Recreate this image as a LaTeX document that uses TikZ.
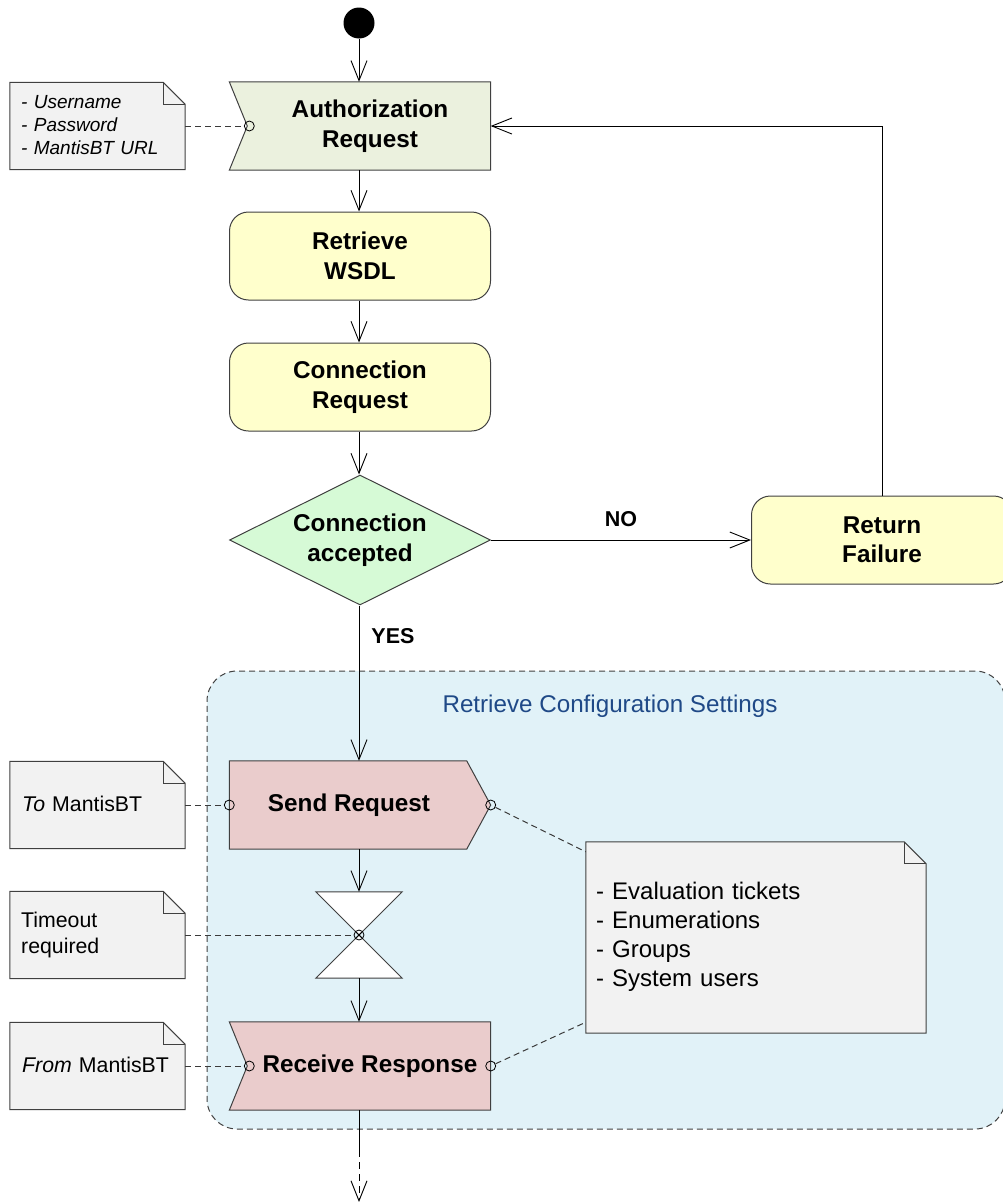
\documentclass[tikz,border=0pt]{standalone}
\usepackage{fontspec}
\setmainfont{Liberation Sans}
\usetikzlibrary{arrows.meta,shapes.geometric,calc}

\definecolor{edgegray}{HTML}{404040}
\definecolor{linkgray}{HTML}{3A3A3A}
\definecolor{authfill}{RGB}{235,241,222}
\definecolor{actfill}{RGB}{255,255,204}
\definecolor{decfill}{RGB}{214,250,214}
\definecolor{msgfill}{RGB}{234,204,204}
\definecolor{regionfill}{RGB}{225,242,248}
\definecolor{notefill}{RGB}{242,242,242}
\definecolor{regiontext}{RGB}{31,73,135}

\newcommand{\labfont}{\fontsize{24.3}{29.5}\selectfont\bfseries}
\newcommand{\notefont}{\fontsize{21.3}{26}\selectfont}
\newcommand{\smallnotefont}{\fontsize{19}{23}\selectfont\itshape}
\newcommand{\bignotefont}{\fontsize{24}{29}\selectfont}

% dog-eared note outline around a named node
\newcommand{\dognote}[1]{%
  \draw[notebody] (#1.north west) -- ($(#1.north east)+(-22,0)$) -- ($(#1.north east)+(0,22)$)
        -- (#1.south east) -- (#1.south west) -- cycle;
  \draw[notebody, fill=none] ($(#1.north east)+(-22,0)$) |- ($(#1.north east)+(0,22)$);}

\tikzset{
  flow/.style={draw=black, line width=0.9pt,
    -{Straight Barb[length=20pt,width=16pt,line width=0.9pt]}},
  link/.style={draw=linkgray, line width=1pt, dash pattern=on 6pt off 4pt},
  frame/.style={minimum width=261pt, minimum height=88pt, inner sep=0pt},
  shapeline/.style={draw=edgegray, line width=1pt},
  action/.style={frame, shapeline, fill=actfill, rounded corners=19pt,
    font=\labfont, align=center},
  labeltext/.style={font=\labfont, align=center, inner sep=0pt},
  notebody/.style={draw=edgegray, line width=1pt, fill=notefill},
  noteframe/.style={minimum width=175pt, minimum height=87pt, inner sep=0pt},
  notetext/.style={text width=153pt, align=left, inner sep=0pt, anchor=west},
  port/.style={circle, draw=black, line width=0.8pt, minimum size=10pt, inner sep=0pt},
  guard/.style={font=\fontsize{21.5}{25}\selectfont\bfseries, inner sep=0pt},
}

\begin{document}
\begin{tikzpicture}[x=1pt, y=-1pt]
\useasboundingbox (0,0) rectangle (1003,1202);
\clip (0,0) rectangle (1003,1202);

% ---- region: Retrieve Configuration Settings
\node[draw=edgegray, line width=1pt, dash pattern=on 6pt off 4pt, fill=regionfill,
      rounded corners=30pt, minimum width=798pt, minimum height=458pt, inner sep=0pt]
      (region) at (606,900) {};
\node[font=\fontsize{24.2}{28}\selectfont, text=regiontext, inner sep=0pt]
      (regionlabel) at (610,706) {Retrieve Configuration Settings};

% ---- start
\node[circle, fill=black, minimum size=31pt, inner sep=0pt] (start) at (359,23) {};

% ---- authorization request (accept event)
\node[frame] (auth) at (360,126) {};
\draw[shapeline, fill=authfill] (auth.north west) -- (auth.north east) -- (auth.south east)
      -- (auth.south west) -- ($(auth.west)+(18,0)$) -- cycle;
\node[labeltext] (authtext) at (370,126) {Authorization\\Request};
\node[port] (authport) at ($(auth.west)+(20,0)$) {};

\node[noteframe] (credNote) at (97.5,126) {};
\dognote{credNote}
\node[notetext, font=\smallnotefont] (credText) at (21,125) {- Username\\- Password\\- MantisBT URL};

% ---- actions
\node[action] (wsdl) at (360,256) {Retrieve\\WSDL};
\node[action] (conn) at (360,387) {Connection\\Request};

% ---- decision
\node[diamond, shapeline, fill=decfill, minimum width=261pt, minimum height=130pt,
      inner sep=0pt, aspect=2, font=\labfont, align=center] (accepted) at (360,540)
      {Connection\\accepted};

\node[action] (fail) at (882,540) {Return\\Failure};

% ---- send request (send signal)
\node[frame] (send) at (360,805) {};
\draw[shapeline, fill=msgfill] (send.north west) -- ($(send.north east)+(-24,0)$)
      -- (send.east) -- ($(send.south east)+(-24,0)$) -- (send.south west) -- cycle;
\node[labeltext] (sendtext) at (349,805) {Send Request};
\node[port] (sendin) at (send.west) {};
\node[port] (sendout) at (send.east) {};

% ---- timer
\node[minimum width=86pt, minimum height=86pt, inner sep=0pt] (timer) at (359,935) {};
\draw[shapeline, fill=white] (timer.north west) -- (timer.north east)
      -- (timer.south west) -- (timer.south east) -- cycle;
\node[port] (timerport) at (timer.center) {};
\draw[line width=0.8pt] (timerport.north east) -- (timerport.south west)
      (timerport.north west) -- (timerport.south east);

% ---- receive response (accept event)
\node[frame] (recv) at (360,1066) {};
\draw[shapeline, fill=msgfill] (recv.north west) -- (recv.north east) -- (recv.south east)
      -- (recv.south west) -- ($(recv.west)+(18,0)$) -- cycle;
\node[labeltext] (recvtext) at (370,1066) {Receive Response};
\node[port] (recvin) at ($(recv.west)+(20,0)$) {};
\node[port] (recvout) at (recv.east) {};

% ---- notes
\node[noteframe] (toNote) at (97.5,805) {};
\dognote{toNote}
\node[notetext, font=\notefont] (toText) at (22,804) {\textit{To} MantisBT};

\node[noteframe] (timeNote) at (97.5,935) {};
\dognote{timeNote}
\node[notetext, font=\notefont] (timeText) at (21,935) {Timeout\\required};

\node[noteframe] (fromNote) at (97.5,1066) {};
\dognote{fromNote}
\node[notetext, font=\notefont] (fromText) at (22,1065) {\textit{From} MantisBT};

\node[minimum width=340pt, minimum height=191pt, inner sep=0pt] (dataNote) at (756,937.5) {};
\dognote{dataNote}
\node[text width=320pt, align=left, inner sep=0pt, anchor=west, font=\bignotefont]
      (dataText) at (596,937) {- Evaluation tickets\\- Enumerations\\- Groups\\- System users};

% ---- control flow
\coordinate (exitA) at (359,1150);
\coordinate (exitB) at (359,1202);
\draw[flow] (start) -- (auth.north -| start);
\draw[flow] (auth.south -| start) -- (wsdl.north -| start);
\draw[flow] (wsdl.south -| start) -- (conn.north -| start);
\draw[flow] (conn.south -| start) -- (accepted.north -| start);
\draw[flow] (accepted.east) -- (fail.west)
      node[guard, midway, above=13pt] (noLabel) {NO};
\draw[flow] (fail.north) |- (auth.east);
\draw[flow] (accepted.south -| start) -- (send.north -| start)
      node[guard, pos=0.2, right=12pt] (yesLabel) {YES};
\draw[flow] (send.south -| start) -- (timer.north);
\draw[flow] (timer.south) -- (recv.north -| start);
\draw[line width=0.9pt] (recv.south -| start) -- (exitA);
\draw[flow, dash pattern=on 7pt off 5pt] (exitA) -- (exitB);

% ---- note attachments
\draw[link] (credNote.east) -- (authport.west);
\draw[link] (toNote.east) -- (sendin.west);
\draw[link] (timeNote.east) -- (timerport.west);
\draw[link] (fromNote.east) -- (recvin.west);
\draw[link] (sendout) -- ($(dataNote.north west)+(0,10)$);
\draw[link] (recvout) -- ($(dataNote.south west)+(0,-11)$);

\end{tikzpicture}
\end{document}
